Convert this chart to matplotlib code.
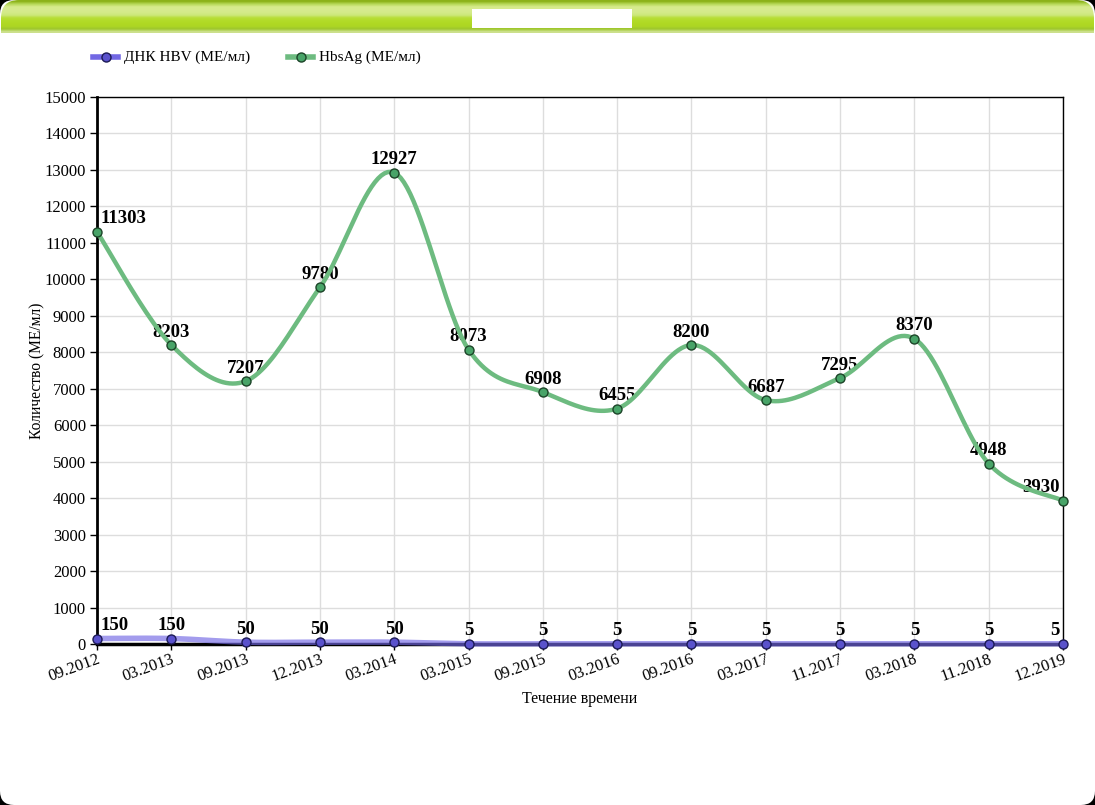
import numpy as np
import matplotlib
matplotlib.use("Agg")
import matplotlib.pyplot as plt
from matplotlib.patches import FancyBboxPatch, Rectangle
from matplotlib.lines import Line2D
from matplotlib.transforms import IdentityTransform

# Data
dates = ["09.2012", "03.2013", "09.2013", "12.2013", "03.2014", "03.2015", "09.2015",
         "03.2016", "09.2016", "03.2017", "11.2017", "03.2018", "11.2018", "12.2019"]
dna_hbv = [150, 150, 50, 50, 50, 5, 5, 5, 5, 5, 5, 5, 5, 5]
hbsag = [11303, 8203, 7207, 9780, 12927, 8073, 6908, 6455, 8200, 6687, 7295, 8370, 4948, 3930]

series_names = ["ДНК HBV (МЕ/мл)", "HbsAg (МЕ/мл)"]
y_label = "Количество (МЕ/мл)"
x_label = "Течение времени"

plt.rcParams["font.family"] = ["Liberation Serif", "DejaVu Serif"]

W, H = 1095, 805
BLUE_LINE = "#7268e4"
BLUE_FACE = "#5a52cc"
BLUE_EDGE = "#1c1a55"
GREEN_LINE = "#6dbb80"
GREEN_FACE = "#48a468"
GREEN_EDGE = "#1c4428"


def catmull_rom(xs, ys, n=24):
    # smooth curve through the points, like the original chart's spline
    xs = np.asarray(xs, float)
    ys = np.asarray(ys, float)
    px = np.concatenate([[xs[0]], xs, [xs[-1]]])
    py = np.concatenate([[ys[0]], ys, [ys[-1]]])
    out_x, out_y = [], []
    t = np.linspace(0, 1, n)
    for i in range(1, len(px) - 2):
        for p, out in ((px, out_x), (py, out_y)):
            p0, p1, p2, p3 = p[i - 1], p[i], p[i + 1], p[i + 2]
            seg = 0.5 * ((2 * p1) + (-p0 + p2) * t
                         + (2 * p0 - 5 * p1 + 4 * p2 - p3) * t ** 2
                         + (-p0 + 3 * p1 - 3 * p2 + p3) * t ** 3)
            out.extend(seg if i == 1 else seg[1:])
    return np.array(out_x), np.array(out_y)


fig = plt.figure(figsize=(W / 100, H / 100), dpi=100, facecolor="black")

# white rounded panel (pixel coords)
panel = FancyBboxPatch((0, 0), W, H, boxstyle="round,pad=0,rounding_size=14",
                       transform=IdentityTransform(), facecolor="white",
                       edgecolor="none", zorder=-10)
fig.patches.append(panel)

# green header bar with gradient
hax = fig.add_axes([0, 1 - 33 / H, 1, 33 / H], zorder=-5)
hax.set_axis_off()
grad = np.array([
    [0.55, 0.70, 0.10], [0.72, 0.85, 0.35], [0.84, 0.92, 0.55], [0.84, 0.92, 0.56],
    [0.83, 0.92, 0.54], [0.80, 0.91, 0.48], [0.72, 0.87, 0.22], [0.70, 0.86, 0.16],
    [0.69, 0.85, 0.14], [0.68, 0.84, 0.14], [0.62, 0.78, 0.18], [0.80, 0.88, 0.55],
])
img = hax.imshow(grad[:, None, :], aspect="auto", extent=[0, 1, 0, 1],
                 interpolation="bilinear")
hax.set_xlim(0, 1)
hax.set_ylim(0, 1)
clip = FancyBboxPatch((1, H - 80), W - 2, 80, boxstyle="round,pad=0,rounding_size=18",
                      transform=IdentityTransform(), facecolor="none", edgecolor="none")
img.set_clip_path(clip)
# hidden title area
fig.patches.append(Rectangle((472 / W, 1 - 28 / H), 160 / W, 19 / H,
                             transform=fig.transFigure, facecolor="white",
                             edgecolor="none", zorder=5))

# main plot
ax = fig.add_axes([97 / W, (H - 644) / H, 966 / W, 547 / H])
x = np.arange(len(dates))

ax.set_xlim(0, len(dates) - 1)
ax.set_ylim(0, 15000)
ax.set_yticks(np.arange(0, 15001, 1000))
ax.set_xticks(x)
ax.set_xticklabels(dates, rotation=20, ha="right", rotation_mode="anchor")
ax.tick_params(axis="y", labelsize=12, length=5, width=1, pad=3)
ax.tick_params(axis="x", labelsize=12, length=4, width=1, pad=1)
ax.grid(True, color="#dddddd", linewidth=1)
ax.set_axisbelow(True)
for side in ("top", "right"):
    ax.spines[side].set_linewidth(1)
ax.spines["left"].set_linewidth(2)
ax.spines["bottom"].set_linewidth(2.5)

ax.set_ylabel(y_label, fontsize=11.2, labelpad=-1)
ax.set_xlabel(x_label, fontsize=11.5, labelpad=5)

# HbsAg
sx, sy = catmull_rom(x, hbsag)
ax.plot(sx, sy, color=GREEN_LINE, linewidth=3.2, zorder=4, clip_on=False,
        solid_capstyle="round")
ax.plot(x, hbsag, linestyle="none", marker="o", markersize=6.5,
        markerfacecolor=GREEN_FACE, markeredgecolor=GREEN_EDGE, markeredgewidth=1,
        zorder=6, clip_on=False)

# DNA HBV
bx, by = catmull_rom(x, dna_hbv)
ax.plot(bx, by, color=BLUE_LINE, linewidth=4, alpha=0.65, zorder=4, clip_on=False)
ax.plot(x, dna_hbv, linestyle="none", marker="o", markersize=6.5,
        markerfacecolor=BLUE_FACE, markeredgecolor=BLUE_EDGE, markeredgewidth=1,
        zorder=6, clip_on=False)

# value labels
last = len(dates) - 1
for vals in (hbsag, dna_hbv):
    for i, v in enumerate(vals):
        if i == 0:
            ha, dx = "left", 2.5
        elif i == last:
            ha, dx = "right", -2.5
        else:
            ha, dx = "center", 0
        ax.annotate(str(v), (i, v), xytext=(dx, 6), textcoords="offset points",
                    ha=ha, va="baseline", fontsize=13.5, fontweight="bold",
                    zorder=3, annotation_clip=False)

# legend drawn by hand at the top
legend_items = [(93, series_names[0], BLUE_LINE, BLUE_FACE, BLUE_EDGE),
                (288, series_names[1], GREEN_LINE, GREEN_FACE, GREEN_EDGE)]
ly = 1 - 57 / H
for px0, name, lc, fc, ec in legend_items:
    fig.add_artist(Line2D([px0 / W, (px0 + 25) / W], [ly, ly], transform=fig.transFigure,
                          color=lc, linewidth=4))
    fig.add_artist(Line2D([(px0 + 12.5) / W], [ly], transform=fig.transFigure,
                          marker="o", markersize=6.5, markerfacecolor=fc,
                          markeredgecolor=ec, linestyle="none"))
    fig.text((px0 + 31) / W, ly, name, fontsize=11, va="center", ha="left")

fig.savefig("out.png", dpi=100, facecolor=fig.get_facecolor())
